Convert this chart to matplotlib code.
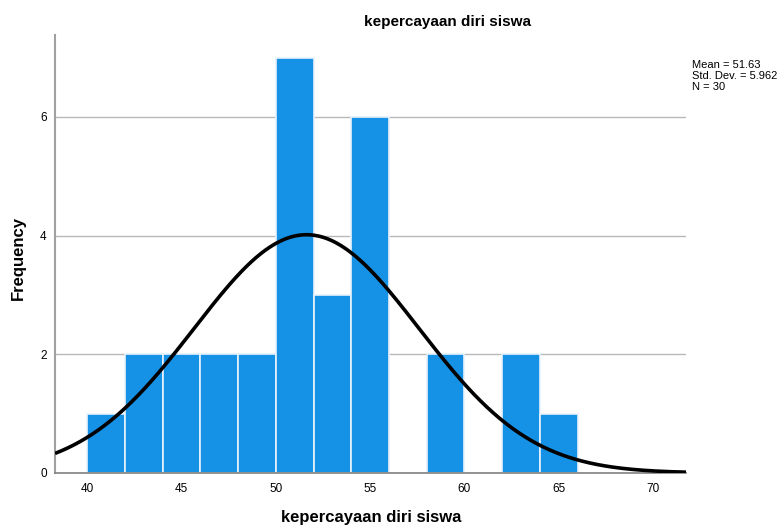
import numpy as np
import matplotlib.pyplot as plt

# histogram data (bin width 2)
bin_edges = [40, 42, 44, 46, 48, 50, 52, 54, 56, 58, 60, 62, 64]
counts = [1, 2, 2, 2, 2, 7, 3, 6, 0, 2, 0, 2, 1]
mean_val = 51.63
std_val = 5.962
n_val = 30
bin_width = 2

plt.rcParams['font.family'] = ['Liberation Sans', 'DejaVu Sans']

fig = plt.figure(figsize=(7.84, 5.29), dpi=100)
ax = fig.add_axes([0.0702, 0.1059, 0.875 - 0.0702, 0.9338 - 0.1059])

ax.set_xlim(38.3, 71.74)
ax.set_ylim(0, 7.38)

# grid lines behind bars
for yv in [2, 4, 6]:
    ax.axhline(yv, color='#b8b8b8', lw=1.0, zorder=0)

ax.bar(bin_edges, counts, width=bin_width, align='edge',
       color='#1592e6', edgecolor='#e8f2fb', linewidth=1.2, zorder=2)

# normal curve scaled to counts
xs = np.linspace(38.3, 71.74, 400)
ys = n_val * bin_width / (std_val * np.sqrt(2 * np.pi)) * np.exp(-0.5 * ((xs - mean_val) / std_val) ** 2)
ax.plot(xs, ys, color='black', lw=2.6, zorder=3, solid_capstyle='butt')

for s in ['top', 'right']:
    ax.spines[s].set_visible(False)
ax.spines['left'].set_color('#a0a0a0')
ax.spines['bottom'].set_color('#808080')
ax.spines['left'].set_linewidth(1.5)
ax.spines['bottom'].set_linewidth(1.2)

ax.set_xticks([40, 45, 50, 55, 60, 65, 70])
ax.set_yticks([0, 2, 4, 6])
ax.tick_params(length=0, labelsize=8.5, pad=6)
ax.tick_params(axis='x', pad=7)

fig.text(0.571, 0.958, 'kepercayaan diri siswa', fontsize=11, fontweight='bold',
         ha='center', va='center')
fig.text(0.474, 0.021, 'kepercayaan diri siswa', fontsize=12, fontweight='bold',
         ha='center', va='center')
fig.text(0.024, 0.512, 'Frequency', fontsize=12, fontweight='bold',
         ha='center', va='center', rotation=90)

fig.text(0.883, 0.887, 'Mean = 51.63\nStd. Dev. = 5.962\nN = 30', fontsize=8,
         va='top', ha='left', linespacing=1.15)

fig.savefig('out.png', dpi=100)
